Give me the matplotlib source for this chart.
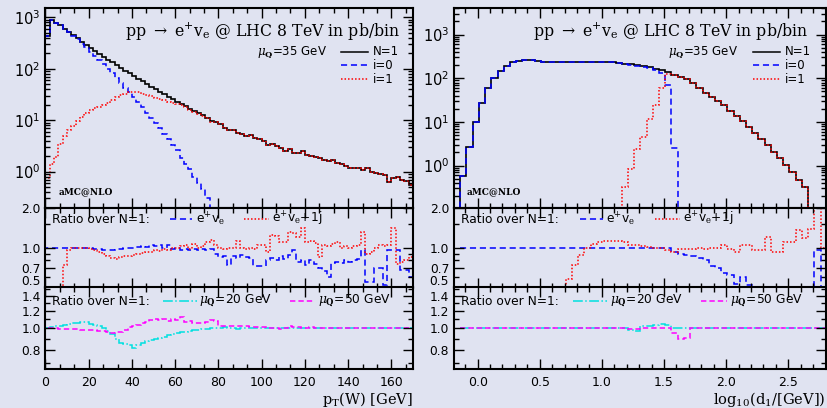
import numpy as np
import matplotlib
matplotlib.use("Agg")
import matplotlib.pyplot as plt
from matplotlib.ticker import MultipleLocator, AutoMinorLocator, LogLocator, NullFormatter

plt.rcParams['font.family'] = ['DejaVu Sans']
plt.rcParams['mathtext.fontset'] = 'custom'
plt.rcParams['mathtext.rm'] = 'DejaVu Serif'
plt.rcParams['mathtext.it'] = 'DejaVu Serif:italic'
plt.rcParams['mathtext.bf'] = 'DejaVu Serif:bold'

# ---------------- left: pT(W), 2 GeV bins from 0 to 170 ----------------
pt_edges = np.arange(0, 172, 2)

# N=1 total (pb/bin)
pt_N1 = [430, 870, 790, 700, 600, 520, 450, 390, 330, 290,
         250, 220, 195, 170, 150, 133, 118, 104, 92, 82,
         72, 64, 57, 51, 45, 40, 36, 32, 28.5, 25.5,
         23, 21, 18.5, 16.5, 15, 13.5, 12.5, 11, 9.5, 9.3,
         8.5, 7.2, 6.5, 6.3, 5.7, 5.3, 5.0, 5.1, 4.5, 4.4,
         4.0, 3.3, 3.5, 3.1, 2.9, 2.5, 2.7, 2.3, 2.3, 2.5,
         2.1, 2.0, 1.95, 1.85, 1.7, 1.6, 1.65, 1.5, 1.4, 1.3,
         1.15, 1.2, 1.15, 1.05, 1.2, 1.0, 0.95, 0.9, 0.85, 0.62,
         0.75, 0.8, 0.7, 0.65, 0.55]
# i=0 contribution (falls out of range above ~76 GeV)
pt_i0 = [430, 870, 790, 700, 600, 515, 440, 375, 310, 260,
         215, 180, 150, 122, 100, 82, 66, 53, 43, 35,
         28, 23, 18, 14, 11, 8.8, 7, 5.5, 4.3, 3.3,
         2.6, 1.8, 1.4, 1.1, 0.8, 0.6, 0.45, 0.3, 0.17]
# i=1 contribution below 78 GeV (identical to N=1 above)
pt_i1_low = [0.75, 1.4, 1.9, 3.5, 5.0, 6.5, 7.6, 9.5, 11.5, 13.5,
             15.5, 17, 18, 19.5, 22, 24.5, 28, 31, 33, 36,
             36, 35, 33, 31, 29, 27.5, 26, 24.5, 23, 22,
             21, 19.5, 18, 16, 14.5, 13.2, 12.1, 10.8, 9.4]

# ratios over N=1
pt_r_ev = [1.0, 1.0, 1.0, 1.0, 1.0, 1.0, 1.0, 1.0, 1.0, 1.0,
           0.99, 0.98, 0.97, 0.96, 0.96, 0.96, 0.97, 0.98, 0.99, 1.0,
           1.0, 1.01, 1.02, 1.01, 1.04, 1.02, 1.05, 1.0, 1.04, 0.97,
           0.99, 0.96, 0.98, 0.96, 0.98, 0.95, 0.97, 0.95, 0.97, 0.9,
           0.85, 0.86, 0.74, 0.86, 0.84, 0.88, 0.85, 0.83, 0.72, 0.72,
           0.72, 0.8, 0.84, 0.8, 0.86, 0.82, 0.88, 0.95, 0.78, 0.8,
           0.74, 0.8, 0.75, 0.7, 0.66, 0.6, 0.76, 0.78, 0.77, 0.8,
           0.78, 0.8, 0.82, 0.95, 0.55, 0.55, 0.7, 0.7, 0.52, 0.95,
           0.95, 0.95, 0.68, 0.68, 0.6]
pt_r_ev1j = [0.3, 0.3, 0.3, 0.3, 0.74, 0.95, 1.0, 1.0, 1.0, 0.99,
             0.97, 0.95, 0.92, 0.9, 0.87, 0.84, 0.82, 0.85, 0.86, 0.87,
             0.88, 0.9, 0.91, 0.92, 0.93, 0.95, 0.94, 0.97, 0.95, 1.0,
             1.0, 1.02, 1.05, 0.98, 1.06, 1.0, 1.03, 1.1, 1.13, 1.05,
             1.0, 0.98, 1.0, 1.0, 1.12, 1.0, 0.97, 1.0, 0.98, 1.05,
             1.05, 0.93, 1.25, 1.22, 1.1, 1.1, 1.3, 1.28, 1.2, 1.4,
             1.1, 1.12, 1.08, 0.85, 1.05, 1.03, 1.06, 1.1, 1.0, 1.02,
             1.0, 1.03, 1.05, 1.3, 0.9, 0.92, 1.0, 1.05, 1.02, 1.05,
             1.4, 0.75, 0.78, 0.8, 0.85]
pt_r_mu20 = [1.0, 1.01, 1.02, 1.03, 1.04, 1.05, 1.055, 1.06, 1.07, 1.065,
             1.05, 1.04, 1.02, 1.0, 0.97, 0.94, 0.9, 0.86, 0.85, 0.84,
             0.82, 0.84, 0.86, 0.88, 0.89, 0.9, 0.91, 0.92, 0.93, 0.94,
             0.95, 0.96, 0.96, 0.97, 0.98, 0.985, 0.99, 0.99, 1.0, 1.0,
             1.0, 1.01, 1.0, 1.0, 0.995, 1.0, 1.005, 1.0, 1.0, 1.0,
             1.0, 1.005, 1.0, 1.0, 1.0, 1.0, 1.0, 1.0, 1.005, 1.0,
             1.0, 1.0, 1.0, 1.0, 1.0, 1.0, 1.0, 1.0, 1.0, 1.0,
             1.0, 1.0, 1.0, 1.0, 1.0, 1.0, 1.0, 1.0, 1.0, 1.0,
             1.0, 1.0, 1.0, 1.0, 1.0]
pt_r_mu50 = [1.0, 1.0, 1.0, 0.995, 0.99, 0.99, 0.99, 0.99, 0.985, 0.98,
             0.98, 0.98, 0.975, 0.97, 0.96, 0.955, 0.96, 0.965, 0.98, 1.01,
             1.03, 1.04, 1.06, 1.07, 1.09, 1.1, 1.09, 1.1, 1.08, 1.1,
             1.09, 1.12, 1.07, 1.08, 1.06, 1.06, 1.06, 1.07, 1.09, 1.08,
             1.03, 1.03, 1.03, 1.02, 1.03, 1.02, 1.02, 1.01, 1.015, 1.01,
             1.01, 1.0, 1.005, 1.0, 0.99, 1.0, 1.02, 1.01, 1.01, 1.0,
             1.005, 1.01, 1.0, 1.0, 1.005, 1.0, 1.0, 1.0, 1.005, 1.0,
             1.0, 1.0, 1.005, 1.0, 1.0, 1.0, 1.0, 1.0, 1.0, 1.0,
             1.0, 1.0, 1.0, 1.0, 1.0]

# ---------------- right: log10(d1), 0.05 bins ----------------
d1_edges = np.round(np.arange(-0.14, 2.82, 0.05), 3)

d1_N1 = [0.58, 2.7, 10, 27, 60, 102, 150, 196, 230, 248,
         258, 262, 250, 240, 236, 234, 233, 233, 234, 236,
         238, 237, 238, 236, 232, 226, 218, 210, 200, 192,
         180, 166, 152, 137, 122, 108, 94, 78, 60, 47,
         38, 30, 24, 18, 13.5, 10.5, 7.8, 5.6, 4.0, 2.9,
         2.1, 1.5, 1.05, 0.72, 0.48, 0.32, 0.01, 0.01, 0.01]
d1_i0 = [0.58, 2.7, 10, 27, 60, 102, 150, 196, 230, 248,
         258, 262, 250, 240, 236, 234, 233, 233, 234, 236,
         238, 237, 238, 236, 232, 226, 216, 206, 196, 186,
         172, 155, 135, 70, 2.5]
# i=1 from bin 26 (log10 d1 = 1.16) up to bin 33; equal to N=1 afterwards
d1_i1_low = [0.32, 0.84, 2.4, 4.6, 12, 24, 59, 125]

d1_r_ev = [1.0, 1.0, 1.0, 1.0, 1.0, 1.0, 1.0, 1.0, 1.0, 1.0,
           1.0, 1.0, 1.0, 1.0, 1.0, 1.0, 1.0, 1.0, 1.0, 1.0,
           1.0, 1.0, 1.0, 1.0, 1.0, 1.0, 1.0, 1.0, 1.0, 1.0,
           1.0, 1.0, 1.0, 1.0, 0.93, 0.9, 0.875, 0.86, 0.83, 0.8,
           0.72, 0.7, 0.64, 0.62, 0.53, 0.6, 0.52, 0.3, 0.3, 0.3,
           0.3, 0.3, 0.3, 0.3, 0.3, 0.3, 0.3, 0.95, 0.3]
# e+ve+1j ratio, from bin 16 onwards
d1_r_ev1j = [0.3, 0.58, 0.74, 0.88, 1.0, 1.07, 1.1, 1.12, 1.12, 1.11,
             1.1, 1.05, 1.04, 1.03, 1.01, 1.0, 1.0, 0.96, 0.92, 0.97,
             0.98, 0.97, 0.99, 0.98, 0.99, 1.0, 1.04, 0.97, 0.93, 1.05,
             1.05, 0.95, 0.95, 1.2, 0.93, 0.93, 1.1, 1.1, 1.35, 1.17,
             1.39, 1.97, 1.0]
d1_r_mu20 = [1.0, 1.0, 1.0, 1.0, 1.0, 1.0, 1.0, 1.0, 1.0, 1.0,
             1.0, 1.0, 1.0, 1.0, 1.0, 1.0, 1.0, 1.0, 1.0, 1.0,
             1.0, 1.0, 1.0, 1.0, 1.0, 1.0, 1.0, 0.98, 0.97, 1.02,
             1.03, 1.04, 1.05, 1.04, 1.0, 1.0, 1.0, 1.0, 1.0, 1.0,
             1.0, 1.0, 1.0, 1.0, 1.0, 1.0, 1.0, 1.0, 1.0, 1.0,
             1.0, 1.0, 1.0, 1.0, 1.0, 1.0, 1.0, 1.0, 1.0]
d1_r_mu50 = [1.0, 1.0, 1.0, 1.0, 1.0, 1.0, 1.0, 1.0, 1.0, 1.0,
             1.0, 1.0, 1.0, 1.0, 1.0, 1.0, 1.0, 1.0, 1.0, 1.0,
             1.0, 1.0, 1.0, 1.0, 1.0, 1.0, 1.0, 0.99, 0.99, 1.0,
             1.0, 1.0, 1.0, 1.0, 0.95, 0.9, 0.91, 1.0, 1.0, 1.0,
             1.0, 1.0, 1.0, 1.0, 1.0, 1.0, 1.0, 1.0, 1.0, 1.0,
             1.0, 1.0, 1.0, 1.0, 1.0, 1.0, 1.0, 1.0, 1.0]

BG = '#e0e3f1'
BLUE = '#0000ff'
RED = '#ff0000'
CYAN = '#00e0e0'
MAG = '#ff00ff'
DASH = (0, (4, 2.5))
DOT = (0, (1, 1.3))
MDASH = (0, (3.5, 2))

fig = plt.figure(figsize=(8.27, 4.08), dpi=100, facecolor=BG)


def style(ax):
    ax.set_facecolor(BG)
    for s in ax.spines.values():
        s.set_linewidth(1.5)
    ax.tick_params(which='both', direction='in', top=True, right=True,
                   width=1.0, colors='black')
    ax.tick_params(which='major', length=7)
    ax.tick_params(which='minor', length=3.5)


def make_column(x0, w, xlim, xmajor, xminor, ylim_top, xlabel):
    top = fig.add_axes([x0, 0.4914, w, 0.4882])
    mid = fig.add_axes([x0, 0.2953, w, 0.1961], sharex=top)
    bot = fig.add_axes([x0, 0.0956, w, 0.1998], sharex=top)
    for ax in (top, mid, bot):
        style(ax)
    top.set_xlim(*xlim)
    top.xaxis.set_major_locator(MultipleLocator(xmajor))
    top.xaxis.set_minor_locator(AutoMinorLocator(xminor))
    top.tick_params(labelbottom=False)
    mid.tick_params(labelbottom=False)
    bot.tick_params(axis='x', labelsize=9, pad=5)

    top.set_yscale('log')
    top.set_ylim(*ylim_top)
    top.yaxis.set_major_locator(LogLocator(base=10, numticks=10))
    top.yaxis.set_minor_locator(LogLocator(base=10, subs=np.arange(2, 10), numticks=10))
    top.yaxis.set_minor_formatter(NullFormatter())
    top.tick_params(axis='y', labelsize=10.5)

    mid.set_yscale('log')
    mid.set_ylim(0.5, 2.0)
    mid.set_yticks([0.5, 0.7, 1.0, 2.0])
    mid.set_yticklabels(['0.5', '0.7', '1.0', '2.0'])
    mid.set_yticks([0.6, 0.8, 0.9, 1.5], minor=True)
    mid.yaxis.set_minor_formatter(NullFormatter())
    mid.tick_params(axis='y', labelsize=8.8)
    for lab in mid.get_yticklabels():
        if lab.get_text() == '0.5':
            lab.set_va('bottom')

    bot.set_yscale('log')
    bot.set_ylim(0.66, 1.52)
    bot.set_yticks([0.8, 1.0, 1.2, 1.4])
    bot.set_yticklabels(['0.8', '1.0', '1.2', '1.4'])
    bot.set_yticks([0.7, 0.9, 1.1, 1.3, 1.5], minor=True)
    bot.yaxis.set_minor_formatter(NullFormatter())
    bot.tick_params(axis='y', labelsize=8.8)

    bot.text(1.0, -0.38, xlabel, transform=bot.transAxes, ha='right', va='center',
             fontsize=10.5, family='DejaVu Serif')
    return top, mid, bot


def annotate(top, mid, bot, tx):
    top.text(tx, 0.886, r'pp $\rightarrow$ e$^{+}$v$_{\mathrm{e}}$ @ LHC 8 TeV in pb/bin',
             transform=top.transAxes, ha='right', va='center', fontsize=11.3,
             family='DejaVu Serif')
    rows = [('N=1', 'black', '-'), ('i=0', BLUE, DASH), ('i=1', RED, DOT)]
    ys = [0.782, 0.715, 0.645]
    top.text(0.765, ys[0], r'$\mu_{\mathbf{Q}}$=35 GeV', transform=top.transAxes,
             ha='right', va='center', fontsize=8.5)
    for (lab, c, ls), y in zip(rows, ys):
        top.plot([0.805, 0.877], [y, y], transform=top.transAxes, color=c, ls=ls, lw=1.1)
        top.text(0.89, y, lab, transform=top.transAxes, ha='left', va='center', fontsize=8.5)
    top.text(0.035, 0.079, 'aMC@NLO', transform=top.transAxes, ha='left', va='center',
             fontsize=6.5, family='DejaVu Serif', fontweight='bold')

    mid.text(0.018, 0.856, 'Ratio over N=1:', transform=mid.transAxes, ha='left',
             va='center', fontsize=8.8)
    mid.plot([0.34, 0.40], [0.856, 0.856], transform=mid.transAxes, color=BLUE, ls=DASH, lw=1.1)
    mid.text(0.41, 0.856, r'e$^{+}$v$_{\mathrm{e}}$', transform=mid.transAxes,
             ha='left', va='center', fontsize=8.8)
    mid.plot([0.54, 0.607], [0.856, 0.856], transform=mid.transAxes, color=RED, ls=DOT, lw=1.1)
    mid.text(0.617, 0.856, r'e$^{+}$v$_{\mathrm{e}}$+1j', transform=mid.transAxes,
             ha='left', va='center', fontsize=8.8)

    bot.text(0.018, 0.834, 'Ratio over N=1:', transform=bot.transAxes, ha='left',
             va='center', fontsize=8.8)
    bot.plot([0.32, 0.413], [0.834, 0.834], transform=bot.transAxes, color=CYAN,
             ls='-.', lw=1.1)
    bot.text(0.419, 0.834, r'$\mu_{\mathbf{Q}}$=20 GeV', transform=bot.transAxes,
             ha='left', va='center', fontsize=8.8)
    bot.plot([0.666, 0.734], [0.834, 0.834], transform=bot.transAxes, color=MAG,
             ls=MDASH, lw=1.1)
    bot.text(0.742, 0.834, r'$\mu_{\mathbf{Q}}$=50 GeV', transform=bot.transAxes,
             ha='left', va='center', fontsize=8.8)


# ---------------- left column ----------------
ltop, lmid, lbot = make_column(0.0550, 0.4444, (0, 170), 20, 3, (0.2, 1500),
                               r'p$_{\mathrm{T}}$(W) [GeV]')
pt_i1 = np.concatenate([pt_i1_low, np.array(pt_N1)[len(pt_i1_low):]])
ltop.stairs(pt_N1, pt_edges, baseline=1e-3, color='black', lw=1.2)
ltop.stairs(pt_i0, pt_edges[:len(pt_i0) + 1], baseline=1e-3, color=BLUE, ls=DASH, lw=1.1)
ltop.stairs(pt_i1, pt_edges, baseline=1e-3, color=RED, ls=DOT, lw=1.1)

lmid.stairs(pt_r_ev, pt_edges, baseline=0.1, color=BLUE, ls=DASH, lw=1.1)
lmid.stairs(pt_r_ev1j, pt_edges, baseline=None, color=RED, ls=DOT, lw=1.1)
lbot.stairs(pt_r_mu20, pt_edges, baseline=0.1, color=CYAN, ls='-.', lw=1.1)
lbot.stairs(pt_r_mu50, pt_edges, baseline=0.1, color=MAG, ls=MDASH, lw=1.1)
annotate(ltop, lmid, lbot, 0.965)

# ---------------- right column ----------------
rtop, rmid, rbot = make_column(0.5490, 0.4492, (-0.19, 2.8), 0.5, 5, (0.11, 4000),
                               r'log$_{10}$(d$_{1}$/[GeV])')
d1_i1 = np.concatenate([d1_i1_low, np.array(d1_N1)[26 + len(d1_i1_low):]])
rtop.stairs(d1_N1, d1_edges, baseline=1e-3, color='black', lw=1.2)
rtop.stairs(d1_i0, d1_edges[:len(d1_i0) + 1], baseline=1e-3, color=BLUE, ls=DASH, lw=1.1)
rtop.stairs(d1_i1, d1_edges[26:], baseline=1e-3, color=RED, ls=DOT, lw=1.1)
rtop.xaxis.set_major_formatter(plt.FormatStrFormatter('%.1f'))

rmid.stairs(d1_r_ev, d1_edges, baseline=None, color=BLUE, ls=DASH, lw=1.1)
rmid.stairs(d1_r_ev1j, d1_edges[16:], baseline=None, color=RED, ls=DOT, lw=1.1)
rbot.stairs(d1_r_mu20, d1_edges, baseline=None, color=CYAN, ls='-.', lw=1.1)
rbot.stairs(d1_r_mu50, d1_edges, baseline=None, color=MAG, ls=MDASH, lw=1.1)
annotate(rtop, rmid, rbot, 0.953)

fig.savefig('out.png', dpi=100, facecolor=BG)
